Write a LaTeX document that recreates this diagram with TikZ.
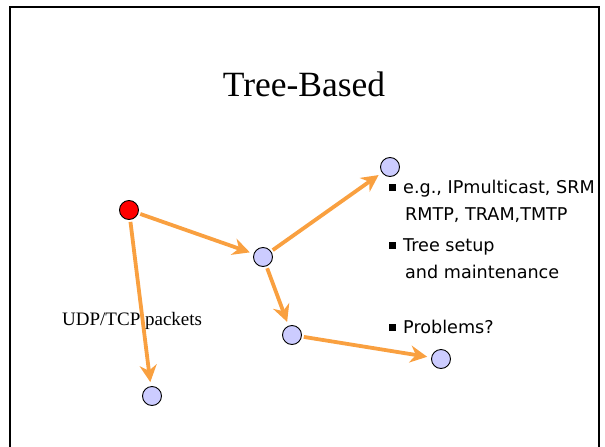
\documentclass[tikz,border=0pt]{standalone}
\usepackage{fontspec}
\setmainfont{Liberation Serif}
\newfontfamily\bulletfont{DejaVu Sans}
\usetikzlibrary{arrows.meta}
\definecolor{flow}{RGB}{249,160,64}
\definecolor{hostfill}{RGB}{204,204,255}
\tikzset{
  host/.style={circle, draw=black, line width=0.9pt, fill=hostfill, minimum size=19pt, inner sep=0pt},
  source/.style={host, fill=red},
  flowarrow/.style={draw=flow, line width=3.8pt, -{Stealth[length=17pt, width=17pt, inset=5.5pt]}, shorten >=4pt, shorten <=2pt},
  item/.style={anchor=base west, inner sep=0pt, font=\bulletfont\fontsize{17.6}{20}\selectfont},
  bulletsq/.style={fill=black, minimum size=7pt, inner sep=0pt}
}
\begin{document}
\begin{tikzpicture}[x=1pt, y=-1pt]
  \useasboundingbox (0,0) rectangle (605,447);
  % slide frame
  \draw[line width=2.6pt, line cap=butt] (10,447) -- (10,7) -- (599,7) -- (599,447);
  % title
  \node[font=\fontsize{35.5}{40}\selectfont, anchor=base] (title) at (304,96) {Tree-Based};
  % multicast tree hosts
  \node[source] (root) at (129,210) {};
  \node[host] (mid) at (263,257) {};
  \node[host] (top) at (390,167) {};
  \node[host] (low) at (292,335) {};
  \node[host] (right) at (441,359) {};
  \node[host] (leaf) at (152,396) {};
  % packet flow
  \draw[flowarrow] (root) -- (mid);
  \draw[flowarrow] (root) -- (leaf);
  \draw[flowarrow] (mid) -- (top);
  \draw[flowarrow] (mid) -- (low);
  \draw[flowarrow] (low) -- (right);
  % label
  \node[anchor=base west, inner sep=0pt, font=\fontsize{19}{22}\selectfont] (udp) at (62,325) {UDP/TCP packets};
  % bullet points
  \node[bulletsq] (m1) at (392,187) {};
  \node[item] (t1) at (403,193) {e.g., IPmulticast, SRM};
  \node[item] (t2) at (405,220) {RMTP, TRAM,TMTP};
  \node[bulletsq] (m2) at (392,245) {};
  \node[item] (t3) at (403,251) {Tree setup};
  \node[item] (t4) at (405,278) {and maintenance};
  \node[bulletsq] (m3) at (392,327) {};
  \node[item] (t5) at (403,333) {Problems?};
\end{tikzpicture}
\end{document}
